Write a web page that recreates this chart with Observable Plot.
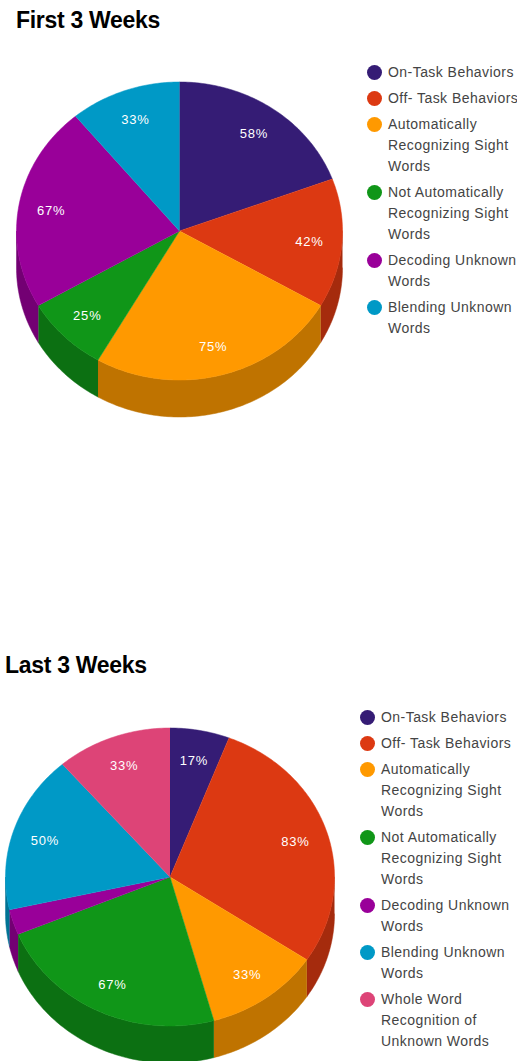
<!DOCTYPE html>
<html><head><meta charset="utf-8">
<style>html,body{margin:0;padding:0;background:#fff;overflow:hidden}svg{display:block}</style>
<script src="https://cdn.jsdelivr.net/npm/d3@7"></script>
<script src="https://cdn.jsdelivr.net/npm/@observablehq/plot@0.6"></script>
</head><body><div id="c"></div>
<script>
const firstCategories = ["On-Task Behaviors","Off- Task Behaviors","Automatically\nRecognizing Sight\nWords","Not Automatically\nRecognizing Sight\nWords","Decoding Unknown\nWords","Blending Unknown\nWords"];
const firstValues = [58,42,75,25,67,33];
const lastCategories = [...firstCategories,"Whole Word\nRecognition of\nUnknown Words"];
const lastValues = [17,83,33,67,8,50,33];
const colors = ["#351c75","#dc3912","#ff9900","#109618","#990099","#0099c6","#dd4477"];
const sideColors = ["#26145a","#a52b0d","#bf7300","#0c7012","#730073","#007394","#a63359"];
const LABEL_MIN = 10;

const charts = [
  {title:"First 3 Weeks", tx:15.5, ty:27, cx:179, cy:230.5, rx:163, ry:149, depth:37, cats:firstCategories, vals:firstValues, lx:374, ly:72},
  {title:"Last 3 Weeks", tx:4.5, ty:672, cx:169.5, cy:876.5, rx:164.5, ry:149, depth:37, cats:lastCategories, vals:lastValues, lx:367, ly:717}
];

const faces=[], sides=[], pctLabels=[], legendDots=[], legendTexts=[], titles=[];
charts.forEach((c,ci)=>{
  titles.push({x:c.tx,y:c.ty,t:c.title});
  const total=d3.sum(c.vals);
  let a=0, ly=c.ly;
  c.vals.forEach((v,i)=>{
    const a0=a, a1=a+v/total*360; a=a1;
    const pt=(deg,k=1,dy=0)=>{const r=deg*Math.PI/180;return {x:c.cx+c.rx*k*Math.sin(r),y:c.cy-c.ry*k*Math.cos(r)+dy}};
    const id=`${ci}-${i}`;
    const n=Math.max(2,Math.ceil(a1-a0));
    const arc=d3.range(n+1).map(j=>a0+(a1-a0)*j/n);
    faces.push({...pt(0,0),id,color:colors[i]});
    arc.forEach(d=>faces.push({...pt(d),id,color:colors[i]}));
    const s0=Math.max(a0,90), s1=Math.min(a1,270);
    if(s1>s0){
      const m=Math.max(2,Math.ceil(s1-s0)); const part=d3.range(m+1).map(j=>s0+(s1-s0)*j/m);
      part.forEach(d=>sides.push({...pt(d),id,color:sideColors[i]}));
      part.slice().reverse().forEach(d=>sides.push({...pt(d,1,c.depth),id,color:sideColors[i]}));
    }
    if(v>=LABEL_MIN){const p=pt((a0+a1)/2,0.80);pctLabels.push({...p,t:`${v}%`});}
    legendDots.push({x:c.lx,y:ly,color:colors[i]});
    c.cats[i].split("\n").forEach((line,k)=>legendTexts.push({x:c.lx+13.5,y:ly+k*21,t:line}));
    ly+=c.cats[i].split("\n").length*21+5;
  });
});

const FONT="'Liberation Sans',Arial,sans-serif";
const plot=Plot.plot({
  width:517,height:1061,margin:0,
  x:{domain:[0,517],range:[0,517],axis:null},
  y:{domain:[0,1061],range:[0,1061],axis:null},
  color:{type:"identity"},
  style:{fontFamily:FONT,background:"#fff"},
  marks:[
    Plot.line(sides,{x:"x",y:"y",z:"id",fill:"color",stroke:"color",strokeWidth:0.5}),
    Plot.line(faces,{x:"x",y:"y",z:"id",fill:"color",stroke:"color",strokeWidth:0.5}),
    Plot.text(pctLabels,{x:"x",y:"y",text:"t",fill:"#fff",fontSize:13,textAnchor:"middle",dy:1}),
    Plot.dot(legendDots,{x:"x",y:"y",r:7.5,fill:"color"}),
    Plot.text(legendTexts,{x:"x",y:"y",text:"t",fill:"#444",fontSize:14,textAnchor:"start",lineAnchor:"middle"}),
    Plot.text(titles,{x:"x",y:"y",text:"t",fill:"#000",fontSize:23,fontWeight:"bold",textAnchor:"start",lineAnchor:"bottom"})
  ]
});
const textGroups=plot.querySelectorAll('g[aria-label="text"]');
[0.8,0.45,-0.3].forEach((s,i)=>{textGroups[i].style.letterSpacing=s+"px";});
document.getElementById("c").append(plot);
</script></body></html>
